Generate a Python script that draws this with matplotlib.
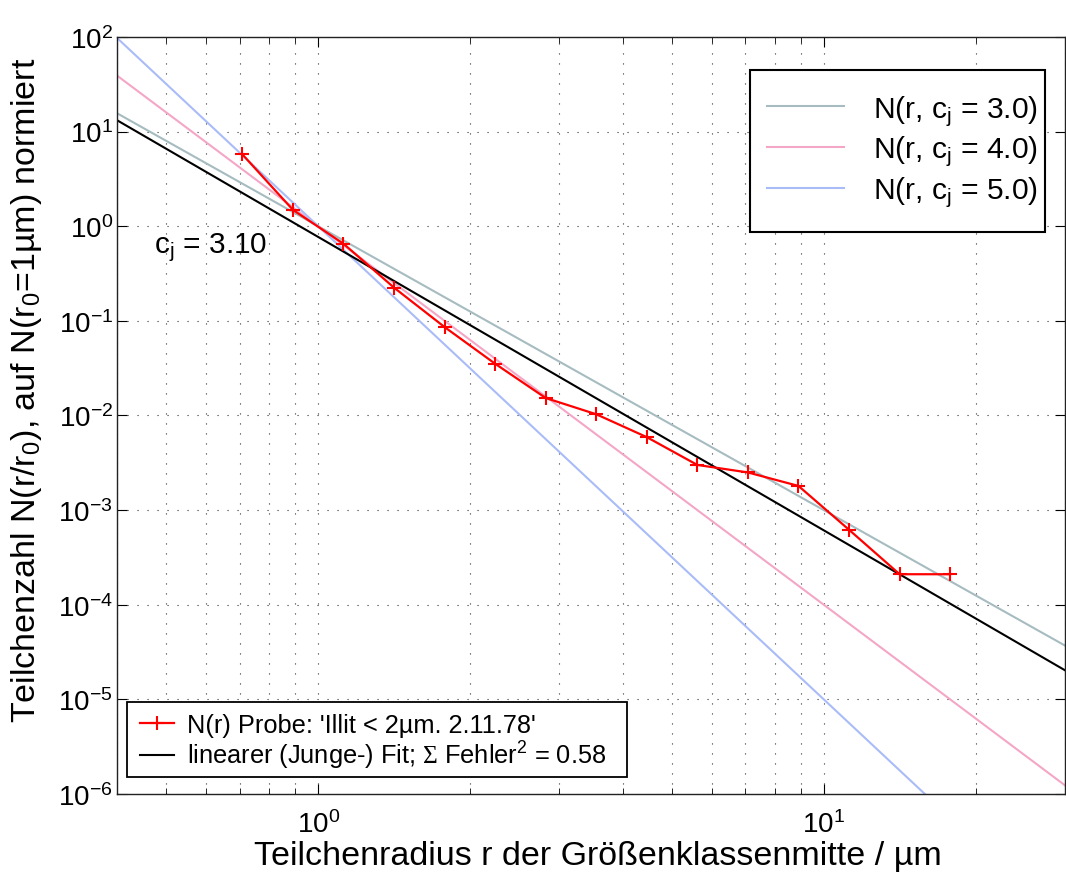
import numpy as np
import matplotlib
matplotlib.use('Agg')
import matplotlib.pyplot as plt
from matplotlib.patches import Rectangle
from matplotlib.ticker import LogLocator, NullFormatter

plt.rcParams['font.family'] = ['Liberation Sans', 'DejaVu Sans']
plt.rcParams['mathtext.fontset'] = 'custom'
plt.rcParams['mathtext.rm'] = 'Liberation Sans'
plt.rcParams['mathtext.it'] = 'Liberation Sans:italic'
plt.rcParams['mathtext.sf'] = 'Liberation Serif'
plt.rcParams['mathtext.default'] = 'regular'

# Messwerte (Klassenmitten und normierte Teilchenzahl)
radius = [0.708, 0.891, 1.122, 1.413, 1.778, 2.239, 2.818, 3.548,
          4.467, 5.623, 7.079, 8.913, 11.22, 14.13, 17.78]
anzahl = [5.74, 1.49, 0.653, 0.224, 0.086, 0.0352, 0.0153, 0.0103,
          0.0059, 0.0030, 0.0025, 0.0018, 0.00062, 0.00021, 0.00021]

# Modellkurven N(r) = A * r^-cj
cj_werte = [3.0, 4.0, 5.0]
cj_farben = ['#a6bcc0', '#f4a6c6', '#aabcf8']
cj_fit = 3.10
a_fit = 0.77
fehler = 0.58
r_bereich = [0.4, 30.0]

fig = plt.figure(figsize=(10.66, 8.79), dpi=100)
ax = fig.add_axes([0.1098, 0.0956, 0.8892, 0.8612])

r = np.array(r_bereich)
modell = []
for c, f in zip(cj_werte, cj_farben):
    h, = ax.plot(r, r ** -c, color=f, lw=1.5, label='N(r, c$_j$ = %.1f)' % c)
    modell.append(h)

h_fit, = ax.plot(r, a_fit * r ** -cj_fit, color='black', lw=1.5,
                 label='linearer (Junge-) Fit; $\\mathsf{\\Sigma}$ Fehler$^2$ = %.2f' % fehler)
h_dat, = ax.plot(radius, anzahl, color='#ff0000', lw=1.6, marker='+', ms=10, mew=1.5,
                 label="N(r) Probe: 'Illit < 2µm. 2.11.78'")

ax.set_xscale('log')
ax.set_yscale('log')
ax.set_xlim(r_bereich)
ax.set_ylim(1e-6, 1e2)
ax.xaxis.set_major_locator(LogLocator(base=10))
ax.xaxis.set_minor_locator(LogLocator(base=10, subs=np.arange(2, 10)))
ax.xaxis.set_minor_formatter(NullFormatter())
ax.yaxis.set_major_locator(LogLocator(base=10, numticks=20))
ax.yaxis.set_minor_locator(plt.NullLocator())

dots = (0, (1, 8))
ax.grid(True, which='major', axis='both', color='#333333', lw=0.8, ls=dots)
ax.grid(True, which='minor', axis='x', color='#333333', lw=0.8, ls=dots)
ax.tick_params(which='both', direction='in', top=True, right=True, labelsize=20)
ax.tick_params(axis='x', pad=12)
ax.tick_params(axis='y', pad=3)
ax.tick_params(which='major', length=7)
ax.tick_params(which='minor', length=4)
for s in ax.spines.values():
    s.set_color('#222222')
    s.set_linewidth(1.0)

ax.set_xlabel('Teilchenradius r der Größenklassenmitte / µm', fontsize=24.5, va='baseline')
ax.xaxis.set_label_coords(0.507, -0.092)
ax.set_ylabel('Teilchenzahl N(r/r$_0$), auf N(r$_0$=1µm) normiert', fontsize=24.5)
ax.yaxis.set_label_coords(-0.077, 0.535)

ax.text(0.473, 0.537, 'c$_j$ = %.2f' % cj_fit, fontsize=21.4, va='baseline')

# Legende oben rechts
ax.add_patch(Rectangle((0.668, 0.742), 0.311, 0.214, transform=ax.transAxes,
                       facecolor='white', edgecolor='black', lw=1.5, zorder=4))
leg1 = ax.legend(handles=modell, loc='center left', bbox_to_anchor=(0.6857, 0.8494),
                 fontsize=21.6, frameon=False, handlelength=2.57, handletextpad=0.97,
                 labelspacing=0.2, borderpad=0, borderaxespad=0)
leg1.set_zorder(5)
ax.add_artist(leg1)

# Legende unten links
ax.add_patch(Rectangle((0.01055, 0.02246), 0.5274, 0.0991, transform=ax.transAxes,
                       facecolor='white', edgecolor='black', lw=1.3, zorder=4))
leg2 = ax.legend(handles=[h_dat, h_fit], loc='center left', bbox_to_anchor=(0.02426, 0.0687),
                 fontsize=18.3, frameon=False, numpoints=1, handlelength=1.34,
                 handletextpad=0.5, labelspacing=0.1, borderpad=0, borderaxespad=0)
leg2.set_zorder(5)

fig.savefig('out.png', dpi=100)
